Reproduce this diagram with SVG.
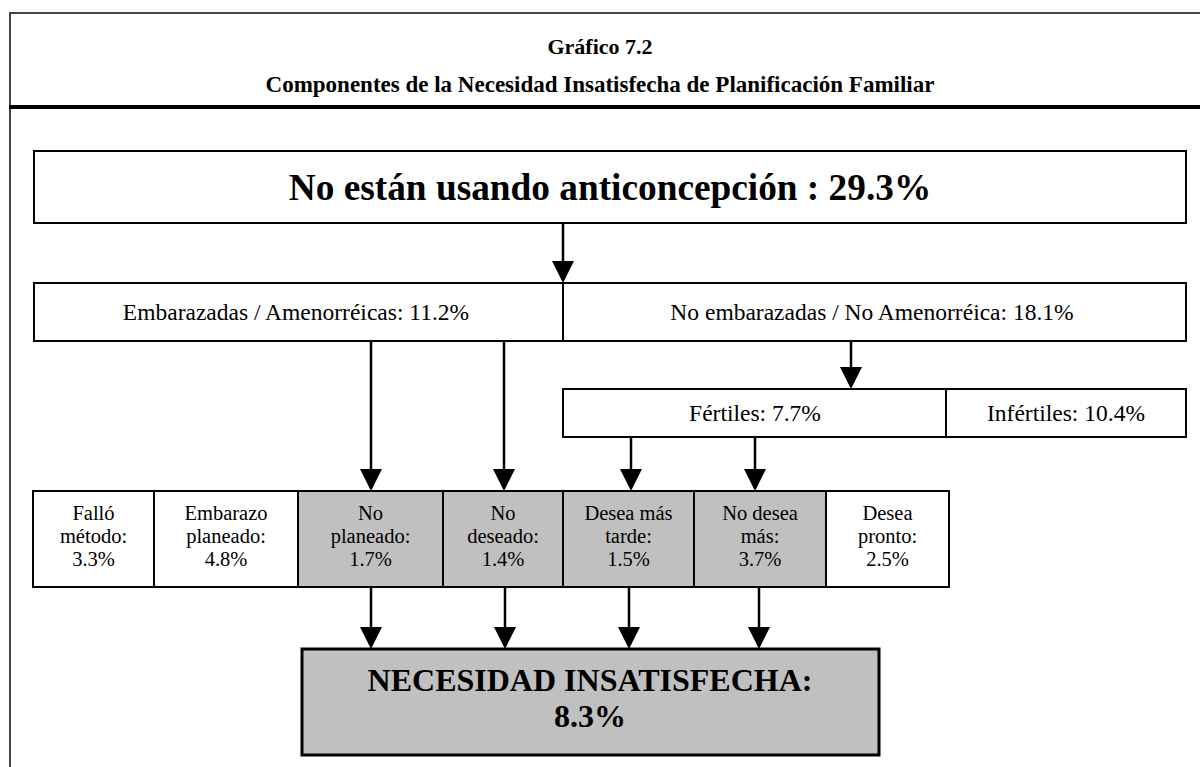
<svg xmlns="http://www.w3.org/2000/svg" width="1200" height="767" viewBox="0 0 1200 767">
<style>
.box{fill:#ffffff;stroke:#000;stroke-width:2}
.grey{fill:#c0c0c0;stroke:#000;stroke-width:2}
.t{font-family:"Liberation Serif","Times New Roman",serif;fill:#000;text-anchor:middle}
.r{font-size:23.5px}
.c{font-size:20.5px}
.b{font-weight:bold}
.conn{stroke:#000;stroke-width:2.5;fill:none}
</style>
<defs>
<marker id="ah" viewBox="0 0 22 22" refX="0" refY="11" markerWidth="22" markerHeight="22" markerUnits="userSpaceOnUse" orient="auto">
<path d="M0,0 L22,11 L0,22 z" fill="#000"/>
</marker>
</defs>
<rect width="1200" height="767" fill="#fff"/>
<g id="frame">
<line x1="10" y1="13" x2="1200" y2="13" stroke="#444" stroke-width="2"/>
<line x1="10" y1="12" x2="10" y2="767" stroke="#444" stroke-width="2"/>
<line x1="9" y1="107" x2="1200" y2="107" stroke="#000" stroke-width="4"/>
</g>
<g id="header">
<text class="t b" x="600" y="54" font-size="22">Gráfico 7.2</text>
<text class="t b" x="600" y="92" font-size="23">Componentes de la Necesidad Insatisfecha de Planificación Familiar</text>
</g>
<g id="n-total">
<rect class="box" x="34" y="151" width="1152" height="72"/>
<text class="t b" x="610" y="200" font-size="37.3">No están usando anticoncepción : 29.3%</text>
</g>
<g id="n-emb">
<rect class="box" x="34" y="283" width="529" height="58"/>
<text class="t r" x="296" y="320">Embarazadas / Amenorréicas: 11.2%</text>
</g>
<g id="n-noemb">
<rect class="box" x="563" y="283" width="623" height="58"/>
<text class="t r" x="872" y="320">No embarazadas / No Amenorréica: 18.1%</text>
</g>
<g id="n-fert">
<rect class="box" x="563" y="389" width="383" height="48"/>
<text class="t r" x="755" y="421">Fértiles: 7.7%</text>
</g>
<g id="n-infert">
<rect class="box" x="946" y="389" width="240" height="48"/>
<text class="t r" x="1066" y="421">Infértiles: 10.4%</text>
</g>
<g id="n-fallo">
<rect class="box" x="33" y="491" width="121" height="96"/>
<text class="t c" y="520"><tspan x="93.5">Falló</tspan><tspan x="93.5" dy="23">método:</tspan><tspan x="93.5" dy="23">3.3%</tspan></text>
</g>
<g id="n-planeado">
<rect class="box" x="154" y="491" width="144" height="96"/>
<text class="t c" y="520"><tspan x="226">Embarazo</tspan><tspan x="226" dy="23">planeado:</tspan><tspan x="226" dy="23">4.8%</tspan></text>
</g>
<g id="n-noplaneado">
<rect class="grey" x="298" y="491" width="145" height="96"/>
<text class="t c" y="520"><tspan x="370.5">No</tspan><tspan x="370.5" dy="23">planeado:</tspan><tspan x="370.5" dy="23">1.7%</tspan></text>
</g>
<g id="n-nodeseado">
<rect class="grey" x="443" y="491" width="120" height="96"/>
<text class="t c" y="520"><tspan x="503">No</tspan><tspan x="503" dy="23">deseado:</tspan><tspan x="503" dy="23">1.4%</tspan></text>
</g>
<g id="n-mastarde">
<rect class="grey" x="563" y="491" width="131" height="96"/>
<text class="t c" y="520"><tspan x="628.5">Desea más</tspan><tspan x="628.5" dy="23">tarde:</tspan><tspan x="628.5" dy="23">1.5%</tspan></text>
</g>
<g id="n-nodeseamas">
<rect class="grey" x="694" y="491" width="132" height="96"/>
<text class="t c" y="520"><tspan x="760">No desea</tspan><tspan x="760" dy="23">más:</tspan><tspan x="760" dy="23">3.7%</tspan></text>
</g>
<g id="n-pronto">
<rect class="box" x="826" y="491" width="123" height="96"/>
<text class="t c" y="520"><tspan x="887.5">Desea</tspan><tspan x="887.5" dy="23">pronto:</tspan><tspan x="887.5" dy="23">2.5%</tspan></text>
</g>
<g id="n-necesidad">
<rect x="302" y="649" width="577" height="106" fill="#c0c0c0" stroke="#000" stroke-width="3"/>
<text class="t b" font-size="32" y="691"><tspan x="590">NECESIDAD INSATISFECHA:</tspan><tspan x="590" dy="36">8.3%</tspan></text>
</g>
<g id="connectors">
<line class="conn" x1="563" y1="223" x2="563" y2="261" marker-end="url(#ah)"/>
<line class="conn" x1="371" y1="341" x2="371" y2="469" marker-end="url(#ah)"/>
<line class="conn" x1="504" y1="341" x2="504" y2="469" marker-end="url(#ah)"/>
<line class="conn" x1="851" y1="341" x2="851" y2="367" marker-end="url(#ah)"/>
<line class="conn" x1="631" y1="437" x2="631" y2="469" marker-end="url(#ah)"/>
<line class="conn" x1="755" y1="437" x2="755" y2="469" marker-end="url(#ah)"/>
<line class="conn" x1="371" y1="587" x2="371" y2="627" marker-end="url(#ah)"/>
<line class="conn" x1="505" y1="587" x2="505" y2="627" marker-end="url(#ah)"/>
<line class="conn" x1="629" y1="587" x2="629" y2="627" marker-end="url(#ah)"/>
<line class="conn" x1="759" y1="587" x2="759" y2="627" marker-end="url(#ah)"/>
</g>
</svg>
